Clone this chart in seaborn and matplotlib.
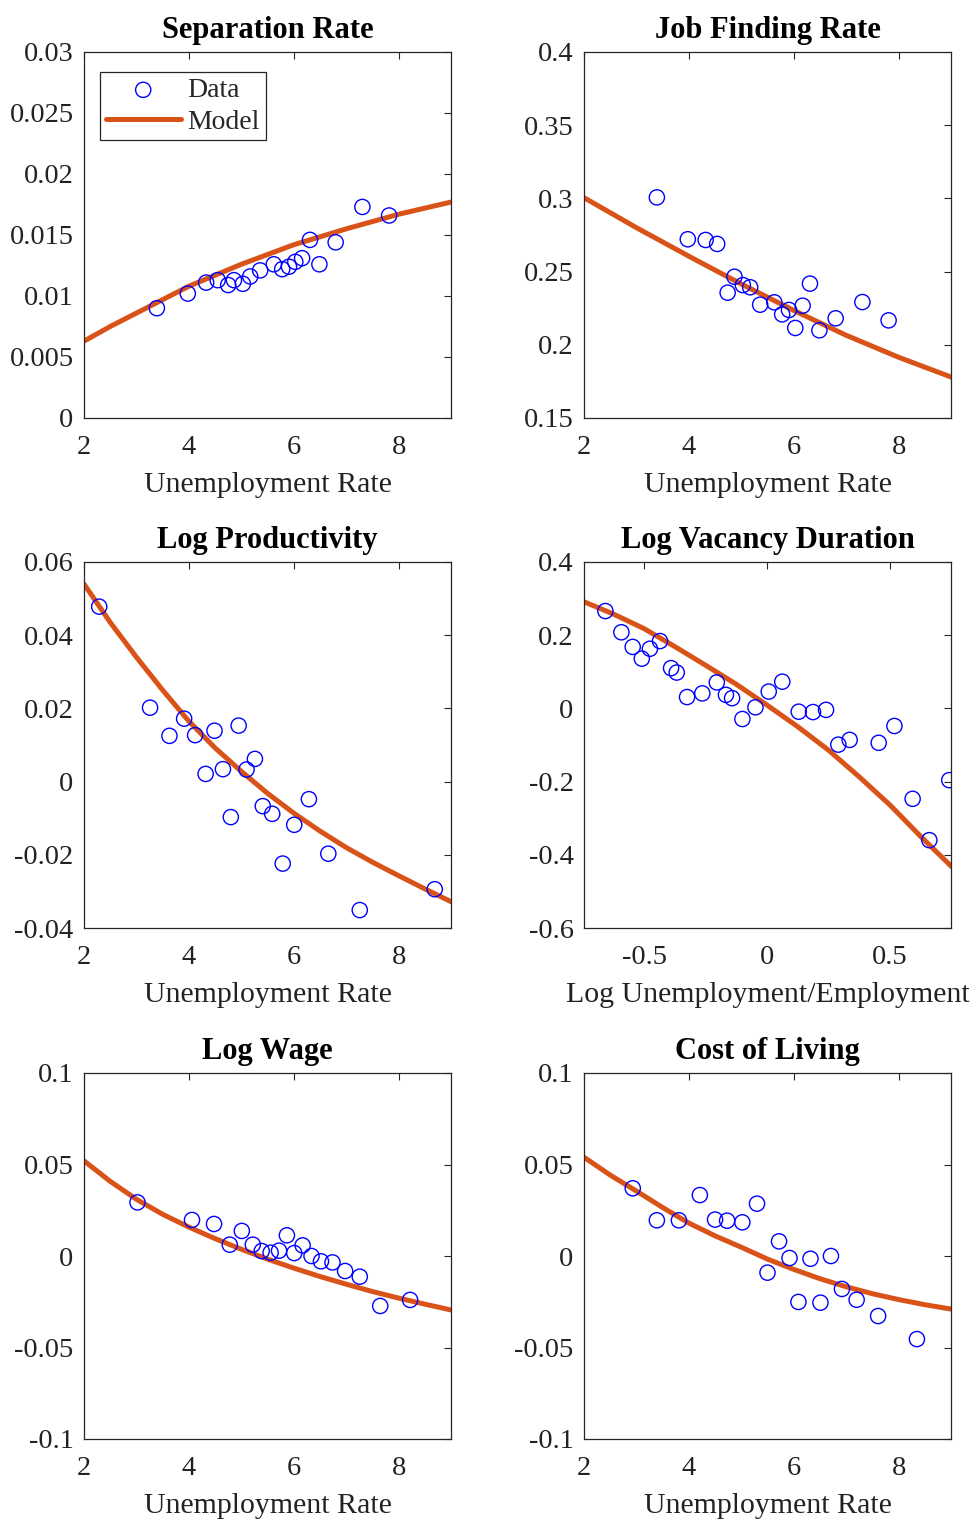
import numpy as np
import pandas as pd
import matplotlib
matplotlib.use("Agg")
import matplotlib.pyplot as plt
import seaborn as sns

# ---- data ----
sep_u = [3.39, 3.98, 4.33, 4.55, 4.75, 4.86, 5.03, 5.17, 5.36, 5.62, 5.78, 5.91, 6.03, 6.16, 6.31, 6.49, 6.80, 7.31, 7.82]
sep_y = [0.0090, 0.0102, 0.0111, 0.0113, 0.0109, 0.0113, 0.0110, 0.0116, 0.0121, 0.0126, 0.0122, 0.0124, 0.0128, 0.0131, 0.0146, 0.0126, 0.0144, 0.0173, 0.0166]
sep_model_u = [2, 2.5, 3, 4, 5, 6, 7, 8, 9]
sep_model_y = [0.0063, 0.0075, 0.0086, 0.0108, 0.0126, 0.0142, 0.0155, 0.0167, 0.0177]

jf_u = [3.39, 3.98, 4.32, 4.54, 4.87, 4.74, 5.03, 5.17, 5.36, 5.63, 5.78, 5.91, 6.03, 6.17, 6.31, 6.49, 6.80, 7.31, 7.81]
jf_y = [0.3007, 0.2721, 0.2716, 0.2689, 0.2465, 0.2356, 0.2408, 0.2393, 0.2274, 0.2290, 0.2208, 0.2238, 0.2115, 0.2267, 0.2418, 0.2099, 0.2181, 0.2292, 0.2167]
jf_model_u = [2, 3, 4, 5, 6, 7, 8, 9]
jf_model_y = [0.3005, 0.2800, 0.2605, 0.2415, 0.2235, 0.2065, 0.1915, 0.1780]

prod_u = [2.29, 3.26, 3.91, 3.63, 4.12, 4.49, 4.95, 5.26, 4.32, 4.65, 5.10, 5.41, 5.59, 4.80, 6.01, 6.29, 6.66, 5.79, 7.26, 8.69]
prod_y = [0.0478, 0.0202, 0.0172, 0.0125, 0.0127, 0.0139, 0.0153, 0.0062, 0.0021, 0.0034, 0.0033, -0.0067, -0.0088, -0.0097, -0.0118, -0.0048, -0.0197, -0.0224, -0.0351, -0.0294]
prod_model_u = [2, 2.5, 3, 3.5, 4, 4.5, 5, 5.5, 6, 6.5, 7, 7.5, 8, 8.5, 9]
prod_model_y = [0.0540, 0.0435, 0.0340, 0.0250, 0.0165, 0.0092, 0.0028, -0.0032, -0.0086, -0.0135, -0.0180, -0.0220, -0.0257, -0.0293, -0.0328]

vac_x = [-0.657, -0.592, -0.546, -0.509, -0.476, -0.435, -0.390, -0.367, -0.325, -0.263, -0.204, -0.167, -0.142, -0.100,
         -0.047, 0.007, 0.062, 0.129, 0.187, 0.240, 0.290, 0.336, 0.454, 0.518, 0.592, 0.660, 0.741]
vac_y = [0.266, 0.208, 0.168, 0.136, 0.163, 0.184, 0.110, 0.098, 0.031, 0.041, 0.071, 0.037, 0.028, -0.029,
         0.003, 0.046, 0.073, -0.009, -0.010, -0.004, -0.099, -0.086, -0.094, -0.048, -0.247, -0.360, -0.196]
vac_model_x = [-0.75, -0.625, -0.5, -0.375, -0.25, -0.125, 0, 0.125, 0.25, 0.375, 0.5, 0.625, 0.75]
vac_model_y = [0.293, 0.258, 0.218, 0.169, 0.118, 0.066, 0.009, -0.050, -0.114, -0.187, -0.264, -0.350, -0.432]

wage_u = [3.02, 4.06, 4.48, 4.78, 5.01, 5.22, 5.39, 5.56, 5.72, 5.87, 6.01, 6.17, 6.34, 6.52, 6.74, 6.98, 7.26, 7.65, 8.22]
wage_y = [0.0293, 0.0197, 0.0175, 0.0062, 0.0137, 0.0062, 0.0027, 0.0018, 0.0029, 0.0113, 0.0016, 0.0058, 0.0000, -0.0029, -0.0035, -0.0082, -0.0113, -0.0273, -0.0240]
wage_model_u = [2, 2.5, 3, 3.5, 4, 4.5, 5, 5.5, 6, 6.5, 7, 7.5, 8, 8.5, 9]
wage_model_y = [0.0520, 0.0408, 0.0310, 0.0228, 0.0158, 0.0095, 0.0037, -0.0017, -0.0066, -0.0112, -0.0154, -0.0194, -0.0230, -0.0263, -0.0295]

col_u = [2.93, 3.39, 3.81, 4.21, 4.50, 4.73, 5.02, 5.30, 5.72, 5.92, 5.50, 6.32, 6.71, 6.92, 7.20, 6.09, 6.51, 7.61, 8.35]
col_y = [0.0370, 0.0195, 0.0195, 0.0333, 0.0199, 0.0193, 0.0184, 0.0286, 0.0080, -0.0011, -0.0091, -0.0015, 0.0000, -0.0180, -0.0239, -0.0251, -0.0255, -0.0328, -0.0454]
col_model_u = [2, 2.5, 3, 3.5, 4, 4.5, 5, 5.5, 6, 6.5, 7, 7.5, 8, 8.5, 9]
col_model_y = [0.0540, 0.0442, 0.0355, 0.0265, 0.0180, 0.0110, 0.0048, -0.0017, -0.0073, -0.0124, -0.0168, -0.0206, -0.0238, -0.0266, -0.0290]

sns.set_theme(style="white")
plt.rcParams['font.family'] = ['Liberation Serif', 'DejaVu Serif']
plt.rcParams['axes.unicode_minus'] = False

panels = [
    dict(title="Separation Rate", x=sep_u, y=sep_y, mx=sep_model_u, my=sep_model_y,
         xlim=(2, 9), xticks=[2, 4, 6, 8], ylim=(0, 0.03),
         yticks=[0, 0.005, 0.01, 0.015, 0.02, 0.025, 0.03], xlabel="Unemployment Rate"),
    dict(title="Job Finding Rate", x=jf_u, y=jf_y, mx=jf_model_u, my=jf_model_y,
         xlim=(2, 9), xticks=[2, 4, 6, 8], ylim=(0.15, 0.4),
         yticks=[0.15, 0.2, 0.25, 0.3, 0.35, 0.4], xlabel="Unemployment Rate"),
    dict(title="Log Productivity", x=prod_u, y=prod_y, mx=prod_model_u, my=prod_model_y,
         xlim=(2, 9), xticks=[2, 4, 6, 8], ylim=(-0.04, 0.06),
         yticks=[-0.04, -0.02, 0, 0.02, 0.04, 0.06], xlabel="Unemployment Rate"),
    dict(title="Log Vacancy Duration", x=vac_x, y=vac_y, mx=vac_model_x, my=vac_model_y,
         xlim=(-0.744, 0.748), xticks=[-0.5, 0, 0.5], ylim=(-0.6, 0.4),
         yticks=[-0.6, -0.4, -0.2, 0, 0.2, 0.4], xlabel="Log Unemployment/Employment"),
    dict(title="Log Wage", x=wage_u, y=wage_y, mx=wage_model_u, my=wage_model_y,
         xlim=(2, 9), xticks=[2, 4, 6, 8], ylim=(-0.1, 0.1),
         yticks=[-0.1, -0.05, 0, 0.05, 0.1], xlabel="Unemployment Rate"),
    dict(title="Cost of Living", x=col_u, y=col_y, mx=col_model_u, my=col_model_y,
         xlim=(2, 9), xticks=[2, 4, 6, 8], ylim=(-0.1, 0.1),
         yticks=[-0.1, -0.05, 0, 0.05, 0.1], xlabel="Unemployment Rate"),
]

W, H = 977, 1519
fig = plt.figure(figsize=(W / 100, H / 100), dpi=100)
lefts = [84, 584]
tops = [52, 562, 1073]
aw, ah = 367, 366
edge = '#262626'

for i, p in enumerate(panels):
    r, c = divmod(i, 2)
    ax = fig.add_axes([lefts[c] / W, 1 - (tops[r] + ah) / H, aw / W, ah / H])
    sns.scatterplot(x=p['x'], y=p['y'], ax=ax, marker='o', s=120, facecolor='none',
                    edgecolor='#0000FF', linewidth=1.0, label='Data', zorder=3)
    sns.lineplot(x=p['mx'], y=p['my'], ax=ax, color='#D95319', linewidth=3.6,
                 label='Model', sort=False, zorder=2)
    ax.set_xlim(*p['xlim'])
    ax.set_ylim(*p['ylim'])
    ax.set_xticks(p['xticks'])
    ax.set_yticks(p['yticks'])
    ax.set_xticklabels([f'{v:g}' for v in p['xticks']])
    ax.set_yticklabels([f'{v:g}' for v in p['yticks']])
    ax.tick_params(direction='in', length=5, width=0.8, color=edge, labelsize=20.5,
                   labelcolor='#222222', top=True, right=True)
    ax.tick_params(axis='x', pad=12)
    ax.tick_params(axis='y', pad=7.5)
    for s in ax.spines.values():
        s.set_visible(True)
        s.set_color(edge)
        s.set_linewidth(0.9)
    ax.set_title(p['title'], fontsize=22, fontweight='bold', pad=10, color='black')
    ax.set_xlabel(p['xlabel'], fontsize=21.5, color='#222222', labelpad=9)
    ax.set_ylabel('')
    if i == 0:
        ax.legend(loc='upper left', bbox_to_anchor=(0.044, 0.945), fontsize=20,
                  frameon=True, fancybox=False, edgecolor=edge, handlelength=2.7,
                  handletextpad=0.25, borderpad=0.2, labelspacing=0.22, borderaxespad=0,
                  framealpha=1)
        ax.get_legend().get_frame().set_linewidth(0.9)
    else:
        ax.get_legend().remove()

fig.savefig('out.png', dpi=100, facecolor='white')
